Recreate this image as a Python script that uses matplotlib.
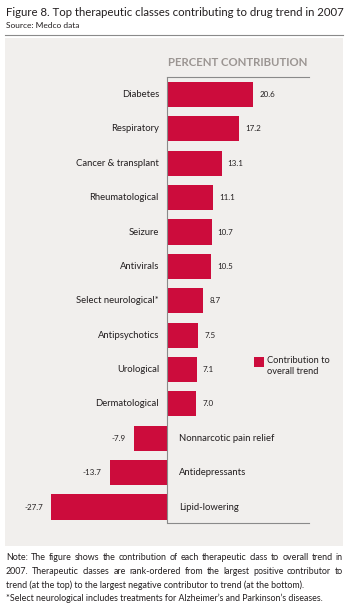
import matplotlib
matplotlib.use("Agg")
import matplotlib.pyplot as plt
from matplotlib.patches import Rectangle

plt.rcParams['font.family'] = ['Lato', 'DejaVu Sans']

categories = ["Diabetes", "Respiratory", "Cancer & transplant", "Rheumatological",
              "Seizure", "Antivirals", "Select neurological*", "Antipsychotics",
              "Urological", "Dermatological", "Nonnarcotic pain relief",
              "Antidepressants", "Lipid-lowering"]
values = [20.6, 17.2, 13.1, 11.1, 10.7, 10.5, 8.7, 7.5, 7.1, 7.0, -7.9, -13.7, -27.7]
value_labels = ["20.6", "17.2", "13.1", "11.1", "10.7", "10.5", "8.7", "7.5", "7.1", "7.0",
                "-7.9", "-13.7", "-27.7"]

title = "Figure 8. Top therapeutic classes contributing to drug trend in 2007"
source = "Source: Medco data"
header = "PERCENT CONTRIBUTION"
legend_label = "Contribution to\noverall trend"
note_lines = [
    "Note: The figure shows the contribution of each therapeutic class to overall trend in",
    "2007. Therapeutic classes are rank-ordered from the largest positive contributor to",
    "trend (at the top) to the largest negative contributor to trend (at the bottom).",
    "*Select neurological includes treatments for Alzheimer\u2019s and Parkinson\u2019s diseases.",
]
justify = [True, True, False, False]

W, H = 352, 610
DPI = 100
BAR = '#cc0c3c'
TXT = '#231f20'

fig = plt.figure(figsize=(W / DPI, H / DPI), dpi=DPI)

def fx(px):
    return px / W

def fy(py):
    return 1 - py / H

# panel background
fig.patches.append(Rectangle((fx(5), fy(546)), fx(343) - fx(5), fy(38) - fy(546),
                             transform=fig.transFigure, facecolor='#f1efed',
                             edgecolor='none', zorder=-5))
# rule under title
fig.add_artist(plt.Line2D([fx(5), fx(343)], [fy(35), fy(35)], color='#8a8a8a',
                          lw=0.8, transform=fig.transFigure))

fig.canvas.draw()
renderer = fig.canvas.get_renderer()

# title, fitted to the reference width
t_title = fig.text(fx(6), fy(12), title, fontsize=8.4, color=TXT, va='center', ha='left')
for _ in range(3):
    w = t_title.get_window_extent(renderer).width
    t_title.set_fontsize(t_title.get_fontsize() * 336.0 / w)
fig.text(fx(6), fy(25), source, fontsize=6.0, color=TXT, va='center', ha='left')
fig.text(fx(238), fy(63), header, fontsize=8.2, color='#9b9592', fontweight='bold',
         va='center', ha='center')

# axes: x from px 30 to 309, zero at 167
ax_l, ax_r, ax_t, ax_b = 30, 309, 77, 523
scale = 4.18
xlo = -(167 - ax_l) / scale
xhi = (ax_r - 167) / scale
ax = fig.add_axes([fx(ax_l), fy(ax_b), fx(ax_r) - fx(ax_l), fy(ax_t) - fy(ax_b)])
ax.set_zorder(2)
ax.set_facecolor('none')
n = len(categories)
ypos = list(range(n))
ax.barh(ypos, values, height=0.73, color=BAR, zorder=3)
ax.set_xlim(xlo, xhi)
ax.set_ylim(n - 1 + 0.465, -0.51)
ax.set_xticks([])
ax.set_yticks([])
for s in ['left', 'right']:
    ax.spines[s].set_visible(False)
for s in ['top', 'bottom']:
    ax.spines[s].set_bounds(0, xhi)
    ax.spines[s].set_color('#8a8a8a')
    ax.spines[s].set_linewidth(0.8)
ax.axvline(0, color='#8a8a8a', lw=0.8, zorder=4)

for y, v, cat, lab in zip(ypos, values, categories, value_labels):
    if v >= 0:
        ax.text(-8 / scale, y, cat, ha='right', va='center', fontsize=6.8, color=TXT)
        ax.text(v + 6 / scale, y, lab, ha='left', va='center', fontsize=5.8, color=TXT)
    else:
        ax.text(12 / scale, y, cat, ha='left', va='center', fontsize=6.8, color=TXT)
        ax.text(v - 8 / scale, y, lab, ha='right', va='center', fontsize=5.8, color=TXT)

# legend
fig.patches.append(Rectangle((fx(254), fy(367)), fx(264) - fx(254), fy(357) - fy(367),
                             transform=fig.transFigure, facecolor=BAR, edgecolor='none'))
fig.text(fx(267), fy(356), legend_label, fontsize=6.7, color=TXT, va='top', ha='left',
         linespacing=1.25)

# notes, with justification
left_px, right_px = 6, 343
line_y = [557, 571, 585, 598]
fs = 6.4
for line, yy, just in zip(note_lines, line_y, justify):
    if not just:
        fig.text(fx(left_px), fy(yy), line, fontsize=fs, color=TXT, va='center', ha='left')
        continue
    words = line.split(' ')
    arts = []
    widths = []
    for w in words:
        t = fig.text(0, fy(yy), w, fontsize=fs, color=TXT, va='center', ha='left')
        bb = t.get_window_extent(renderer)
        arts.append(t)
        widths.append(bb.width)
    total = sum(widths)
    gap = (right_px - left_px - total) / (len(words) - 1)
    x = left_px
    for t, wd in zip(arts, widths):
        t.set_x(fx(x))
        x += wd + gap

fig.savefig('out.png', dpi=DPI)
